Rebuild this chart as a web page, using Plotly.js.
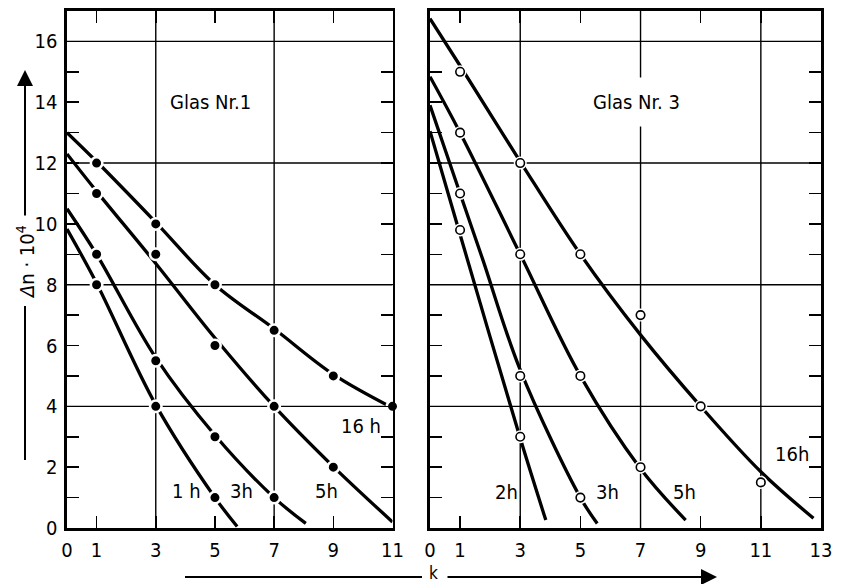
<!DOCTYPE html>
<html>
<head>
<meta charset="utf-8">
<script src="https://cdn.plot.ly/plotly-3.0.1.min.js"></script>
<style>html,body{margin:0;padding:0;background:#fff;}#chart{width:843px;height:584px;}</style>
</head>
<body>
<div id="chart"></div>
<script>
// ---------- data ----------
// Glas Nr. 1 : fitted curves (k, Δn·10^4)
const g1_k_16h = [0, 1, 3, 5, 7, 9, 11];
const g1_v_16h = [13.0, 12.05, 10.05, 8.0, 6.55, 5.05, 3.95];
const g1_k_5h  = [0, 1, 3, 5, 7, 9, 11];
const g1_v_5h  = [12.3, 11.07, 8.7, 6.25, 4.0, 2.02, 0.2];
const g1_k_3h  = [0, 1, 3, 5, 7, 8.07];
const g1_v_3h  = [10.5, 9.0, 5.6, 3.05, 1.0, 0.15];
const g1_k_1h  = [0, 1, 3, 5, 5.75];
const g1_v_1h  = [9.83, 8.05, 4.05, 1.0, 0.05];
// Glas Nr. 1 : measured points
const g1_pk_16h = [1, 3, 5, 7, 9, 11];
const g1_pv_16h = [12, 10, 8, 6.5, 5, 4];
const g1_pk_5h  = [1, 3, 5, 7, 9];
const g1_pv_5h  = [11, 9, 6, 4, 2];
const g1_pk_3h  = [1, 3, 5, 7];
const g1_pv_3h  = [9, 5.5, 3, 1];
const g1_pk_1h  = [1, 3, 5];
const g1_pv_1h  = [8, 4, 1];

// Glas Nr. 3 : fitted curves
const g3_k_16h = [0, 1, 3, 5, 7, 9, 11, 12.75];
const g3_v_16h = [16.75, 15.2, 12.05, 9.0, 6.35, 4.0, 1.85, 0.32];
const g3_k_5h  = [0, 1, 3, 5, 7, 8.5];
const g3_v_5h  = [14.84, 13.0, 9.0, 5.0, 1.95, 0.26];
const g3_k_3h  = [0, 1, 1.75, 3, 5, 5.56];
const g3_v_3h  = [13.9, 11.0, 8.84, 5.2, 1.0, 0.15];
const g3_k_2h  = [0, 1, 3, 3.85];
const g3_v_2h  = [13.05, 9.65, 2.95, 0.26];
// Glas Nr. 3 : measured points
const g3_pk_16h = [1, 3, 5, 7, 9, 11];
const g3_pv_16h = [15, 12, 9, 7, 4, 1.5];
const g3_pk_5h  = [1, 3, 5, 7];
const g3_pv_5h  = [13, 9, 5, 2];
const g3_pk_3h  = [1, 3, 5];
const g3_pv_3h  = [11, 5, 1];
const g3_pk_2h  = [1, 3];
const g3_pv_2h  = [9.8, 3];

// axis ticks and grid
const xTicksLeft  = [0, 1, 3, 5, 7, 9, 11];
const xTicksRight = [0, 1, 3, 5, 7, 9, 11, 13];
const xGridLeft   = [3, 7];
const xGridRight  = [3, 7, 11];
const yTicks      = [0,1,2,3,4,5,6,7,8,9,10,11,12,13,14,15,16,17];
const yTickText   = ['0','','2','','4','','6','','8','','10','','12','','14','','16',''];
const yGrid       = [4, 8, 12, 16];

// curve labels
const g1_labels = [
  {t: 'Glas Nr.1', k: 4.85, v: 14.0},
  {t: '16 h', k: 9.95, v: 3.35},
  {t: '1 h',  k: 4.04, v: 1.23},
  {t: '3h',   k: 5.89, v: 1.23},
  {t: '5h',   k: 8.77, v: 1.23}
];
const g3_labels = [
  {t: 'Glas Nr. 3', k: 6.88, v: 14.0},
  {t: '2h',  k: 2.53, v: 1.18},
  {t: '3h',  k: 5.91, v: 1.18},
  {t: '5h',  k: 8.45, v: 1.18},
  {t: '16h', k: 12.03, v: 2.42}
];

// ---------- build ----------
const W = 843, H = 584;
const px = x => x / W;
const py = y => 1 - y / H;
const FONT_NUM = 'DejaVu Sans Condensed, Liberation Sans Narrow, sans-serif';
const FONT_TXT = 'DejaVu Sans Condensed, Liberation Sans Narrow, sans-serif';

const traces = [];
function curve(k, v, xa, ya) {
  traces.push({x: k, y: v, xaxis: xa, yaxis: ya, type: 'scatter', mode: 'lines',
    line: {color: '#000', width: 3.3, shape: 'spline', smoothing: 1}, hoverinfo: 'skip', showlegend: false});
}
function filled(k, v, xa, ya) {
  traces.push({x: k, y: v, xaxis: xa, yaxis: ya, type: 'scatter', mode: 'markers', cliponaxis: false,
    marker: {symbol: 'circle', size: 11.5, color: '#000', line: {color: '#fff', width: 2.5}},
    hoverinfo: 'skip', showlegend: false});
}
function open(k, v, xa, ya) {
  traces.push({x: k, y: v, xaxis: xa, yaxis: ya, type: 'scatter', mode: 'markers', cliponaxis: false,
    marker: {symbol: 'circle', size: 13, color: '#fff', line: {width: 0}},
    hoverinfo: 'skip', showlegend: false});
  traces.push({x: k, y: v, xaxis: xa, yaxis: ya, type: 'scatter', mode: 'markers', cliponaxis: false,
    marker: {symbol: 'circle', size: 8.5, color: '#fff', line: {color: '#000', width: 1.6}},
    hoverinfo: 'skip', showlegend: false});
}

curve(g1_k_16h, g1_v_16h, 'x', 'y');
curve(g1_k_5h, g1_v_5h, 'x', 'y');
curve(g1_k_3h, g1_v_3h, 'x', 'y');
curve(g1_k_1h, g1_v_1h, 'x', 'y');
filled(g1_pk_16h, g1_pv_16h, 'x', 'y');
filled(g1_pk_5h, g1_pv_5h, 'x', 'y');
filled(g1_pk_3h, g1_pv_3h, 'x', 'y');
filled(g1_pk_1h, g1_pv_1h, 'x', 'y');

curve(g3_k_16h, g3_v_16h, 'x2', 'y2');
curve(g3_k_5h, g3_v_5h, 'x2', 'y2');
curve(g3_k_3h, g3_v_3h, 'x2', 'y2');
curve(g3_k_2h, g3_v_2h, 'x2', 'y2');
open(g3_pk_16h, g3_pv_16h, 'x2', 'y2');
open(g3_pk_5h, g3_pv_5h, 'x2', 'y2');
open(g3_pk_3h, g3_pv_3h, 'x2', 'y2');
open(g3_pk_2h, g3_pv_2h, 'x2', 'y2');

const domL = [px(67), px(392.5)];
const domR = [px(430), px(821)];
const domY = [56 / H, 573 / H];

function mainX(dom, range, vals, anchor) {
  return {domain: dom, range: range, anchor: anchor, tickmode: 'array', tickvals: vals,
    ticktext: vals.map(String), ticks: 'inside', ticklen: 12, tickwidth: 1.5, tickcolor: '#000',
    showline: true, linewidth: 2.6, linecolor: '#000', mirror: 'ticks', showgrid: false, zeroline: false,
    ticklabelstandoff: 2, tickfont: {family: FONT_NUM, size: 20, color: '#000'}, fixedrange: true};
}
function mainY(range, anchor, labels) {
  return {domain: domY, range: range, anchor: anchor, tickmode: 'array', tickvals: yTicks,
    ticktext: labels ? yTickText : yTicks.map(() => ''), ticks: 'inside', ticklen: 12, tickwidth: 1.5,
    tickcolor: '#000', showline: true, linewidth: 2.6, linecolor: '#000', mirror: 'ticks',
    showgrid: false, zeroline: false, ticklabelstandoff: 3, showticklabels: labels,
    tickfont: {family: FONT_NUM, size: 20, color: '#000'}, fixedrange: true};
}

// grid lines placed through the axes' own scales
const shapes = [];
function gridX(vals, xr, yr) {
  vals.forEach(v => shapes.push({type: 'line', xref: xr, yref: yr + ' domain', x0: v, x1: v, y0: 0, y1: 1,
    layer: 'below', line: {color: '#000', width: 1.4}}));
}
function gridY(vals, xr, yr) {
  vals.forEach(v => shapes.push({type: 'line', xref: xr + ' domain', yref: yr, x0: 0, x1: 1, y0: v, y1: v,
    layer: 'below', line: {color: '#000', width: 1.4}}));
}
gridX(xGridLeft, 'x', 'y');
gridY(yGrid, 'x', 'y');
gridX(xGridRight, 'x2', 'y2');
gridY(yGrid, 'x2', 'y2');

// axis-title arrow lines
shapes.push({type: 'line', xref: 'paper', yref: 'paper', x0: px(25), x1: px(25), y0: py(306), y1: py(460),
  line: {color: '#000', width: 2}});
shapes.push({type: 'line', xref: 'paper', yref: 'paper', x0: px(185), x1: px(422), y0: py(577), y1: py(577),
  line: {color: '#000', width: 2}});

const annotations = [];
function labels(list, xr, yr) {
  list.forEach(l => {
    const isTitle = l.t.indexOf('Glas') === 0;
    annotations.push({x: l.k, y: l.v, xref: xr, yref: yr, text: l.t, showarrow: false,
      xanchor: 'center', yanchor: 'middle',
      font: {family: isTitle ? FONT_TXT : FONT_NUM, size: 20, color: '#000'},
      bgcolor: isTitle ? '#fff' : 'rgba(0,0,0,0)', borderpad: isTitle ? 12 : 0});
  });
}
labels(g1_labels, 'x', 'y');
labels(g3_labels, 'x2', 'y2');

annotations.push({x: px(26), y: py(262), xref: 'paper', yref: 'paper', text: '<i>Δ</i>n · 10<sup>4</sup>',
  textangle: -90, showarrow: false, xanchor: 'center', yanchor: 'middle',
  font: {family: FONT_NUM, size: 20, color: '#000'}});
annotations.push({x: px(25), y: py(70), xref: 'paper', yref: 'paper', text: '', showarrow: true,
  ax: 0, ay: 147, arrowhead: 2, arrowsize: 1.6, arrowwidth: 2, arrowcolor: '#000'});
annotations.push({x: px(433), y: py(573), xref: 'paper', yref: 'paper', text: 'k', showarrow: false,
  xanchor: 'center', yanchor: 'middle', borderpad: 0, font: {family: FONT_NUM, size: 17, color: '#000'}});
annotations.push({x: px(717), y: py(577), xref: 'paper', yref: 'paper', text: '', showarrow: true,
  ax: -271, ay: 0, arrowhead: 2, arrowsize: 1.6, arrowwidth: 2, arrowcolor: '#000'});

const layout = {
  width: W, height: H, margin: {l: 0, r: 0, t: 0, b: 0},
  paper_bgcolor: '#fff', plot_bgcolor: '#fff', showlegend: false,
  xaxis: mainX(domL, [0, 11], xTicksLeft, 'y'),
  yaxis: mainY([0, 17], 'x', true),
  xaxis2: mainX(domR, [0, 13], xTicksRight, 'y2'),
  yaxis2: mainY([0, 17], 'x2', false),
  annotations: annotations,
  shapes: shapes
};

Plotly.newPlot('chart', traces, layout, {staticPlot: true, displayModeBar: false});
</script>
</body>
</html>
